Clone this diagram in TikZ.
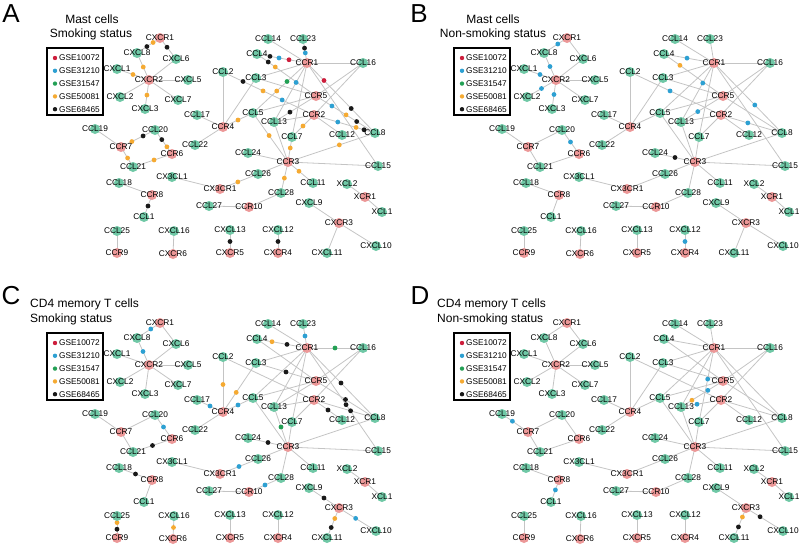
\documentclass[tikz,border=0pt]{standalone}
\usepackage{fontspec}
\setmainfont{Liberation Sans}
\usetikzlibrary{calc,backgrounds}
\definecolor{recc}{RGB}{236,152,152}
\definecolor{ligc}{RGB}{112,200,166}
\definecolor{dR}{RGB}{205,30,60}
\definecolor{dB}{RGB}{45,160,210}
\definecolor{dG}{RGB}{35,160,85}
\definecolor{dO}{RGB}{245,170,50}
\definecolor{dK}{RGB}{25,25,25}
\definecolor{edgec}{RGB}{196,196,196}
\tikzset{
 recn/.style={circle,fill=recc,minimum size=10pt,inner sep=0pt},
 lign/.style={circle,fill=ligc,minimum size=10pt,inner sep=0pt},
 nm/.style={font=\fontsize{8.3}{9}\selectfont,inner sep=0pt,text=black},
 edge/.style={draw=edgec,line width=0.8pt},
 legtxt/.style={font=\fontsize{8.3}{9}\selectfont,inner sep=0pt,anchor=west},
 legbox/.style={draw,line width=1.6pt,minimum width=56pt,minimum height=67pt,inner sep=0pt},
 ttl/.style={font=\fontsize{12}{14}\selectfont,inner sep=0pt},
 letter/.style={font=\fontsize{26}{28}\selectfont,inner sep=0pt},
}
\newcommand\pfx{}
\newcommand\R[3]{\node[recn,label={[nm]center:#1}] (\pfx-#1) at (#2,#3) {};}
\newcommand\G[3]{\node[lign,label={[nm]center:#1}] (\pfx-#1) at (#2,#3) {};}
\newcommand\dt[4]{\fill[#4] ($(\pfx-#1.center)!#3!(\pfx-#2.center)$) circle[radius=2.4pt];}
\newcommand\legend{%
 \node[legbox] (\pfx-legend) at (75,81.5) {};
 \foreach \t/\c [count=\i from 0] in {GSE10072/dR,GSE31210/dB,GSE31547/dG,GSE50081/dO,GSE68465/dK}{
   \fill[\c] (55,58+12.8*\i) circle[radius=2.2pt];
   \node[legtxt] (\pfx-leg\i) at (59,58+12.8*\i) {\t};
 }}
\newcommand\panel[1]{\renewcommand\pfx{#1}%
 \legend
 \R{CXCR1}{160}{38}\R{CXCR2}{149}{80}\R{CCR1}{307}{63}\R{CCR5}{316}{96}\R{CCR2}{314}{115}
 \R{CCR4}{223}{127}\R{CCR3}{288}{162}\R{CCR7}{121}{147}\R{CCR6}{172}{154}\R{CCR8}{152}{195}
 \R{CX3CR1}{220}{189}\R{CCR10}{249}{207}\R{XCR1}{365}{197}\R{CXCR3}{339}{223}\R{CCR9}{117}{253}
 \R{CXCR6}{173}{254}\R{CXCR5}{230}{253}\R{CXCR4}{278}{253}
 \G{CXCL8}{137}{53}\G{CXCL6}{176}{59}\G{CXCL1}{117}{69}\G{CXCL5}{188}{80}\G{CXCL2}{120}{97}
 \G{CXCL7}{178}{100}\G{CXCL3}{145}{109}\G{CCL14}{268}{39}\G{CCL23}{303}{39}\G{CCL4}{257}{54}
 \G{CCL16}{363}{63}\G{CCL2}{223}{72}\G{CCL3}{256}{78}\G{CCL5}{253}{113}\G{CCL13}{274}{122}
 \G{CCL7}{292}{137}\G{CCL12}{342}{135}\G{CCL8}{375}{133}\G{CCL17}{197}{115}\G{CCL22}{195}{145}
 \G{CCL24}{248}{153}\G{CCL15}{378}{166}\G{CCL26}{258}{174}\G{CCL11}{313}{183}\G{CCL28}{281}{193}
 \G{XCL2}{347}{184}\G{XCL1}{382}{212}\G{CCL27}{209}{206}\G{CXCL9}{309}{203}\G{CXCL10}{376}{246}
 \G{CXCL11}{327}{253}\G{CXCL13}{230}{230}\G{CXCL12}{278}{230}\G{CCL19}{95}{129}\G{CCL20}{155}{130}
 \G{CCL21}{133}{167}\G{CCL18}{119}{183}\G{CX3CL1}{172}{177}\G{CCL1}{144}{217}\G{CCL25}{117}{231}
 \G{CXCL16}{174}{231}
 \begin{scope}[on background layer]
 \foreach \a/\b in {CXCR1/CXCL8,CXCR1/CXCL6,CXCR2/CXCL8,CXCR2/CXCL6,CXCR2/CXCL1,CXCR2/CXCL2,
   CXCR2/CXCL3,CXCR2/CXCL5,CXCR2/CXCL7,CCR7/CCL19,CCR7/CCL20,CCR7/CCL21,CCR6/CCL20,CCR6/CCL21,
   CCR8/CCL18,CCR8/CCL1,CCR9/CCL25,CXCR6/CXCL16,CXCR5/CXCL13,CXCR4/CXCL12,CX3CR1/CX3CL1,
   CX3CR1/CCL26,CCR10/CCL27,CCR10/CCL28,XCR1/XCL1,XCR1/XCL2,CXCR3/CXCL9,CXCR3/CXCL10,CXCR3/CXCL11,
   CCR1/CCL14,CCR1/CCL23,CCR1/CCL4,CCR1/CCL3,CCR1/CCL16,CCR1/CCL5,CCR1/CCL7,CCR1/CCL13,CCR1/CCL8,
   CCR1/CCL15,CCR5/CCL3,CCR5/CCL4,CCR5/CCL5,CCR5/CCL8,CCR5/CCL13,CCR5/CCL16,CCR2/CCL2,CCR2/CCL7,
   CCR2/CCL8,CCR2/CCL12,CCR2/CCL13,CCR2/CCL16,CCR3/CCL5,CCR3/CCL7,CCR3/CCL8,CCR3/CCL11,CCR3/CCL13,
   CCR3/CCL15,CCR3/CCL24,CCR3/CCL26,CCR3/CCL28,CCR4/CCL2,CCR4/CCL3,CCR4/CCL5,CCR4/CCL17,CCR4/CCL22}
   \draw[edge] (\pfx-\a.center) -- (\pfx-\b.center);
 \end{scope}}
\begin{document}
\begin{tikzpicture}[x=1pt,y=-1pt]
\useasboundingbox (0,0) rectangle (800,544);
% ---------- A
\panel{a}
\begin{scope}[on background layer]
\dt{CXCR1}{CXCL8}{0.3}{dO}\dt{CXCR1}{CXCL8}{0.57}{dK}\dt{CXCR1}{CXCL6}{0.44}{dK}
\dt{CXCR2}{CXCL8}{0.48}{dO}\dt{CXCR2}{CXCL1}{0.5}{dO}\dt{CXCR2}{CXCL3}{0.52}{dO}
\dt{CCR7}{CCL20}{0.32}{dO}\dt{CCR7}{CCL20}{0.65}{dK}\dt{CCR6}{CCL20}{0.3}{dO}\dt{CCR6}{CCL20}{0.6}{dK}
\dt{CCR7}{CCL21}{0.55}{dO}\dt{CCR6}{CCL21}{0.46}{dO}\dt{CCR8}{CCL1}{0.5}{dK}
\dt{CXCR5}{CXCL13}{0.5}{dK}\dt{CXCR4}{CXCL12}{0.5}{dK}\dt{CX3CR1}{CCL26}{0.47}{dO}
\dt{CCR3}{CCL28}{0.52}{dO}\dt{CCR3}{CCL11}{0.44}{dO}\dt{CCR3}{CCL7}{0.56}{dO}
\dt{CCR3}{CCL8}{0.59}{dO}\dt{CCR3}{CCL5}{0.54}{dO}
\dt{CCR1}{CCL4}{0.36}{dR}\dt{CCR1}{CCL4}{0.56}{dB}\dt{CCR1}{CCL4}{0.74}{dK}
\dt{CCR5}{CCL4}{0.69}{dO}\dt{CCR5}{CCL4}{0.81}{dK}
\dt{CCR1}{CCL23}{0.42}{dB}\dt{CCR1}{CCL23}{0.62}{dK}
\dt{CCR1}{CCL5}{0.37}{dG}\dt{CCR1}{CCL5}{0.56}{dO}\dt{CCR1}{CCL13}{0.33}{dB}
\dt{CCR1}{CCL8}{0.25}{dR}\dt{CCR1}{CCL8}{0.65}{dK}
\dt{CCR5}{CCL8}{0.27}{dB}\dt{CCR5}{CCL8}{0.51}{dO}\dt{CCR5}{CCL8}{0.69}{dK}
\dt{CCL2}{CCR2}{0.22}{dK}\dt{CCL2}{CCR2}{0.44}{dO}\dt{CCL2}{CCR2}{0.65}{dB}
\dt{CCR2}{CCL8}{0.39}{dB}\dt{CCR2}{CCL8}{0.69}{dO}\dt{CCR2}{CCL8}{0.82}{dK}
\dt{CCR5}{CCL13}{0.62}{dK}\dt{CCR2}{CCL7}{0.5}{dO}\dt{CCR4}{CCL5}{0.5}{dO}
\end{scope}
\node[letter] (la) at (11,14) {A};
\node[ttl] (ta1) at (92,19) {Mast cells};
\node[ttl] (ta2) at (91,34) {Smoking status};
% ---------- B
\begin{scope}[shift={(407,0)}]
\panel{b}
\begin{scope}[on background layer]
\dt{CCR1}{CCL4}{0.54}{dB}\dt{CCR5}{CCL4}{0.73}{dO}\dt{CCR1}{CCL13}{0.34}{dB}
\dt{CCL2}{CCR2}{0.44}{dB}\dt{CCR5}{CCL13}{0.6}{dB}\dt{CCR1}{CCL8}{0.6}{dB}
\dt{CCR2}{CCL8}{0.44}{dB}\dt{CCR3}{CCL24}{0.5}{dK}
\dt{CXCR1}{CXCL8}{0.4}{dB}\dt{CXCR2}{CXCL8}{0.5}{dB}\dt{CXCR2}{CXCL1}{0.5}{dB}
\dt{CXCR2}{CXCL2}{0.5}{dB}\dt{CXCR2}{CXCL3}{0.5}{dB}\dt{CCR6}{CCL20}{0.5}{dB}
\dt{CXCR4}{CXCL12}{0.5}{dB}
\end{scope}
\node[letter] (lb) at (12,14) {B};
\node[ttl] (tb1) at (86,19) {Mast cells};
\node[ttl] (tb2) at (86,34) {Non-smoking status};
\end{scope}
% ---------- C
\begin{scope}[shift={(0,285)}]
\panel{c}
\begin{scope}[on background layer]
\dt{CXCR1}{CXCL8}{0.4}{dB}\dt{CXCR2}{CXCL8}{0.5}{dB}\dt{CCR4}{CCL17}{0.5}{dB}
\dt{CCR4}{CCL2}{0.5}{dO}\dt{CCR4}{CCL3}{0.4}{dO}\dt{CCR6}{CCL20}{0.5}{dB}
\dt{CCR6}{CCL21}{0.5}{dK}\dt{CCR8}{CCL18}{0.5}{dK}
\dt{CCR9}{CCL25}{0.4}{dK}\dt{CCR9}{CCL25}{0.7}{dO}\dt{CXCR6}{CXCL16}{0.5}{dO}
\dt{CX3CR1}{CCL26}{0.5}{dB}\dt{CCR10}{CCL28}{0.5}{dB}\dt{CXCR3}{CXCL9}{0.5}{dK}
\dt{CXCR3}{CXCL11}{0.35}{dO}\dt{CXCR3}{CXCL11}{0.65}{dK}\dt{CXCR3}{CXCL10}{0.45}{dB}
\dt{CCR1}{CCL4}{0.4}{dK}\dt{CCR1}{CCL4}{0.7}{dO}\dt{CCR1}{CCL23}{0.5}{dB}
\dt{CCR1}{CCL16}{0.5}{dG}\dt{CCR1}{CCL8}{0.5}{dK}\dt{CCR5}{CCL8}{0.5}{dK}
\dt{CCR2}{CCL8}{0.6}{dK}\dt{CCR1}{CCL15}{0.55}{dK}\dt{CCR3}{CCL13}{0.5}{dG}
\dt{CCR5}{CCL3}{0.5}{dK}\dt{CCR2}{CCL12}{0.5}{dK}\dt{CCR3}{CCL24}{0.5}{dK}
\dt{CCR4}{CCL5}{0.5}{dB}
\end{scope}
\node[letter] (lc) at (11,11) {C};
\node[ttl,anchor=west] (tc1) at (30,19) {CD4 memory T cells};
\node[ttl,anchor=west] (tc2) at (30,34) {Smoking status};
\end{scope}
% ---------- D
\begin{scope}[shift={(407,285)}]
\panel{d}
\begin{scope}[on background layer]
\dt{CCR7}{CCL19}{0.6}{dB}\dt{CCR8}{CCL1}{0.45}{dB}\dt{CCR1}{CCL7}{0.42}{dB}
\dt{CCR5}{CCL13}{0.36}{dB}\dt{CCR5}{CCL13}{0.74}{dO}\dt{CCR2}{CCL13}{0.6}{dB}
\dt{CXCR3}{CXCL11}{0.3}{dO}\dt{CXCR3}{CXCL11}{0.63}{dK}\dt{CXCR3}{CXCL10}{0.38}{dK}
\end{scope}
\node[letter] (ld) at (13,11) {D};
\node[ttl,anchor=west] (td1) at (30,19) {CD4 memory T cells};
\node[ttl,anchor=west] (td2) at (30,34) {Non-smoking status};
\end{scope}
\end{tikzpicture}
\end{document}
